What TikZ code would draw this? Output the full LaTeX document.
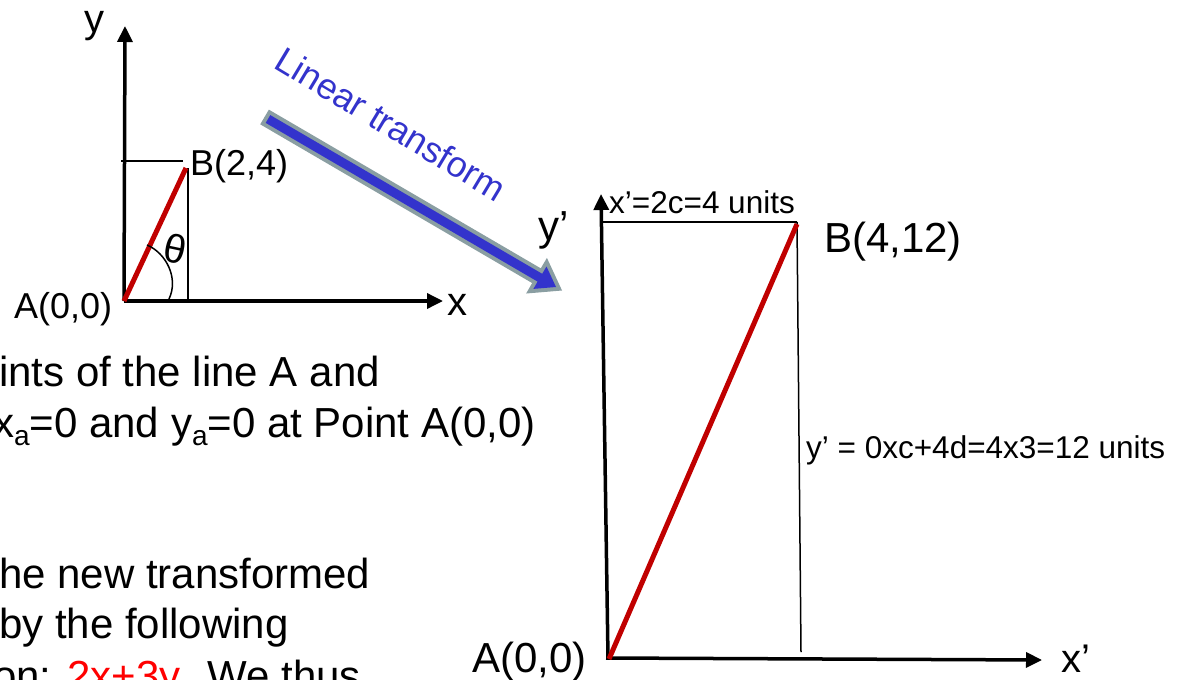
\documentclass[tikz,border=0pt]{standalone}
\usepackage{fontspec}
\setmainfont{Liberation Sans}
\usetikzlibrary{arrows.meta}
\definecolor{segred}{RGB}{192,0,0}
\definecolor{txtred}{RGB}{255,0,0}
\definecolor{arrblue}{RGB}{51,51,204}
\definecolor{arrgray}{RGB}{138,158,162}
\begin{document}
\begin{tikzpicture}[x=1pt,y=-1pt,
  axis/.style={line width=3.5pt,-{Triangle[length=16pt,width=15pt]}},
  thinline/.style={line width=1.5pt},
  seg/.style={line width=5pt,draw=segred},
  lbl/.style={inner sep=0pt,anchor=base west,font=\fontsize{36pt}{43pt}\selectfont},
  big/.style={inner sep=0pt,anchor=base west,font=\fontsize{42pt}{50pt}\selectfont},
  small/.style={inner sep=0pt,anchor=base west,font=\fontsize{31.5pt}{38pt}\selectfont},
  body/.style={inner sep=0pt,anchor=base west,font=\fontsize{42pt}{50pt}\selectfont}]
\useasboundingbox (0,0) rectangle (1186,680);
\clip (0,0) rectangle (1186,680);

% ---------- left diagram ----------
\coordinate (A) at (124,301);
\coordinate (Ytip) at (125,26);
\coordinate (Xtip) at (443,301);
\coordinate (B) at (186,168);
\coordinate (Hl) at (121,161);
\coordinate (Hr) at (183,161);
\coordinate (Vt) at (188,168);
\coordinate (Vb) at (188,300);
\coordinate (Ta) at (147,245);
\coordinate (Tb) at (169,299);

\draw[thinline] (Hl) -- (Hr);
\draw[thinline] (Vt) -- (Vb);
\draw[axis] (A) -- (Ytip);
\draw[axis] (A) -- (Xtip);
\draw[seg] (A) -- (B);
\draw[thinline] (Ta) .. controls (166,253) and (179,278) .. (Tb);

\node[lbl,font=\fontsize{40pt}{48pt}\selectfont] (ylab) at (84,32) {y};
\node[lbl,font=\fontsize{40pt}{48pt}\selectfont] (xlab) at (447,315) {x};
\node[lbl] (Alab) at (14,318) {A(0,0)};
\node[lbl] (Blab) at (190,175) {B(2,4)};
\node[inner sep=0pt,font=\fontsize{40pt}{48pt}\selectfont,rotate=-12] (theta) at (175,249) {θ};

% ---------- transform arrow ----------
\def\arrowpath{(265.7,122.9) -- (537.6,281.6) -- (533.4,288.9) -- (556,287)
  -- (546.5,266.5) -- (542.2,273.8) -- (270.3,115.1) -- cycle}
\filldraw[fill=arrgray,draw=arrgray,line width=8pt,line join=miter] \arrowpath;
\fill[arrblue] \arrowpath;
\node[inner sep=0pt,text=arrblue,font=\fontsize{36pt}{43pt}\selectfont,rotate=-31] (lt) at (391,124) {Linear transform};

% ---------- right diagram ----------
\coordinate (A2) at (608,658);
\coordinate (Y2tip) at (601,194);
\coordinate (X2tip) at (1042,660);
\coordinate (B2) at (797,224);
\coordinate (H2l) at (601,222);
\coordinate (H2r) at (797,222);
\coordinate (V2t) at (797,222);
\coordinate (V2b) at (801,652);

\draw[thinline] (H2l) -- (H2r);
\draw[thinline] (V2t) -- (V2b);
\draw[axis] (A2) -- (Y2tip);
\draw[axis] (606,658) -- (X2tip);
\draw[seg] (609,659) -- (B2);

\node[big] (y2lab) at (538,240) {y’};
\node[big,font=\fontsize{40pt}{48pt}\selectfont] (x2lab) at (1061,672) {x’};
\node[big] (A2lab) at (472,672) {A(0,0)};
\node[big] (B2lab) at (824,252) {B(4,12)};
\node[small] (xtop) at (609,213) {x’=2c=4 units};
\node[small] (yright) at (806,458) {y’ = 0xc+4d=4x3=12 units};

% ---------- body text ----------
\node[body] (t1) at (-1,386) {ints of the line A and};
\node[body] (t2) at (-7,437) {x\raisebox{-8pt}{\fontsize{28pt}{30pt}\selectfont a}=0 and y\raisebox{-8pt}{\fontsize{28pt}{30pt}\selectfont a}=0 at Point A(0,0)};
\node[body] (t3) at (-1,588) {he new transformed};
\node[body] (t4) at (-1,638) {by the following};
\node[body] (t5) at (-7,690) {on: \textcolor{txtred}{2x+3y}. We thus};
\end{tikzpicture}
\end{document}
